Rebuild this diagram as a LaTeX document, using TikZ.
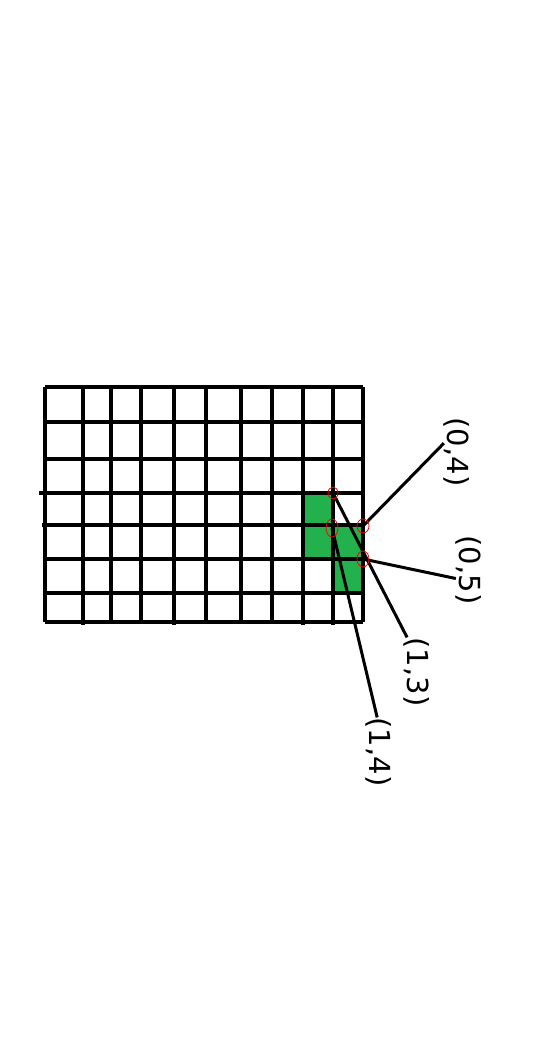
\documentclass[tikz,border=0pt]{standalone}
\usepackage{fontspec}
\setmainfont{DejaVu Sans}
\definecolor{paintgreen}{HTML}{22B14C}
\tikzset{
  gridline/.style={line width=3.3pt},
  wire/.style={line width=3pt},
  redmark/.style={red, line width=0.8pt},
  lbl/.style={rotate=-90, inner sep=0pt, font=\fontsize{29}{35}\selectfont}
}
\begin{document}
\begin{tikzpicture}[x=1pt,y=-1pt]
      \useasboundingbox (0,0) rectangle (533,1041);
      % green cells
      \fill[paintgreen] (303,493) rectangle (333,559);
      \fill[paintgreen] (333,525) rectangle (363,593);
      % grid
      \foreach \x/\ya/\yb in {45/387/622, 83/387/625, 111/385/622, 141/387/622, 174/387/625,
                              206/385/622, 241/387/622, 272/387/622, 303/387/625, 333/387/625, 363/387/622}
        \draw[gridline] (\x,\ya) -- (\x,\yb);
      \foreach \y/\xa/\xb in {387/45/363, 422/45/363, 459/43/363, 493/39/365,
                              525/42/363, 559/43/363, 593/43/363, 622/45/363}
        \draw[gridline] (\xa,\y) -- (\xb,\y);
      % corners
      \coordinate (g13) at (333,493);
      \coordinate (g14) at (332,528);
      \coordinate (g04) at (363,526);
      \coordinate (g05) at (363,559);
      % labels
      \node[lbl] (l04) at (457,452) {(0,4)};
      \node[lbl] (l05) at (469,570) {(0,5)};
      \node[lbl] (l13) at (417,672) {(1,3)};
      \node[lbl] (l14) at (379,752) {(1,4)};
      \draw[wire] (g04) -- (l04.236);
      \draw[wire] (g05) -- (l05.303);
      \draw[wire] (g13) -- (l13.196);
      \draw[wire] (g14) -- (l14.183);
      % red marks
      \draw[redmark] (g13) ellipse (5pt and 6pt);
      \draw[redmark] (g14) ellipse (6pt and 9pt);
      \draw[redmark] (g04) ellipse (6pt and 7pt);
      \draw[redmark] (g05) ellipse (6pt and 8pt);
    \end{tikzpicture}
\end{document}
